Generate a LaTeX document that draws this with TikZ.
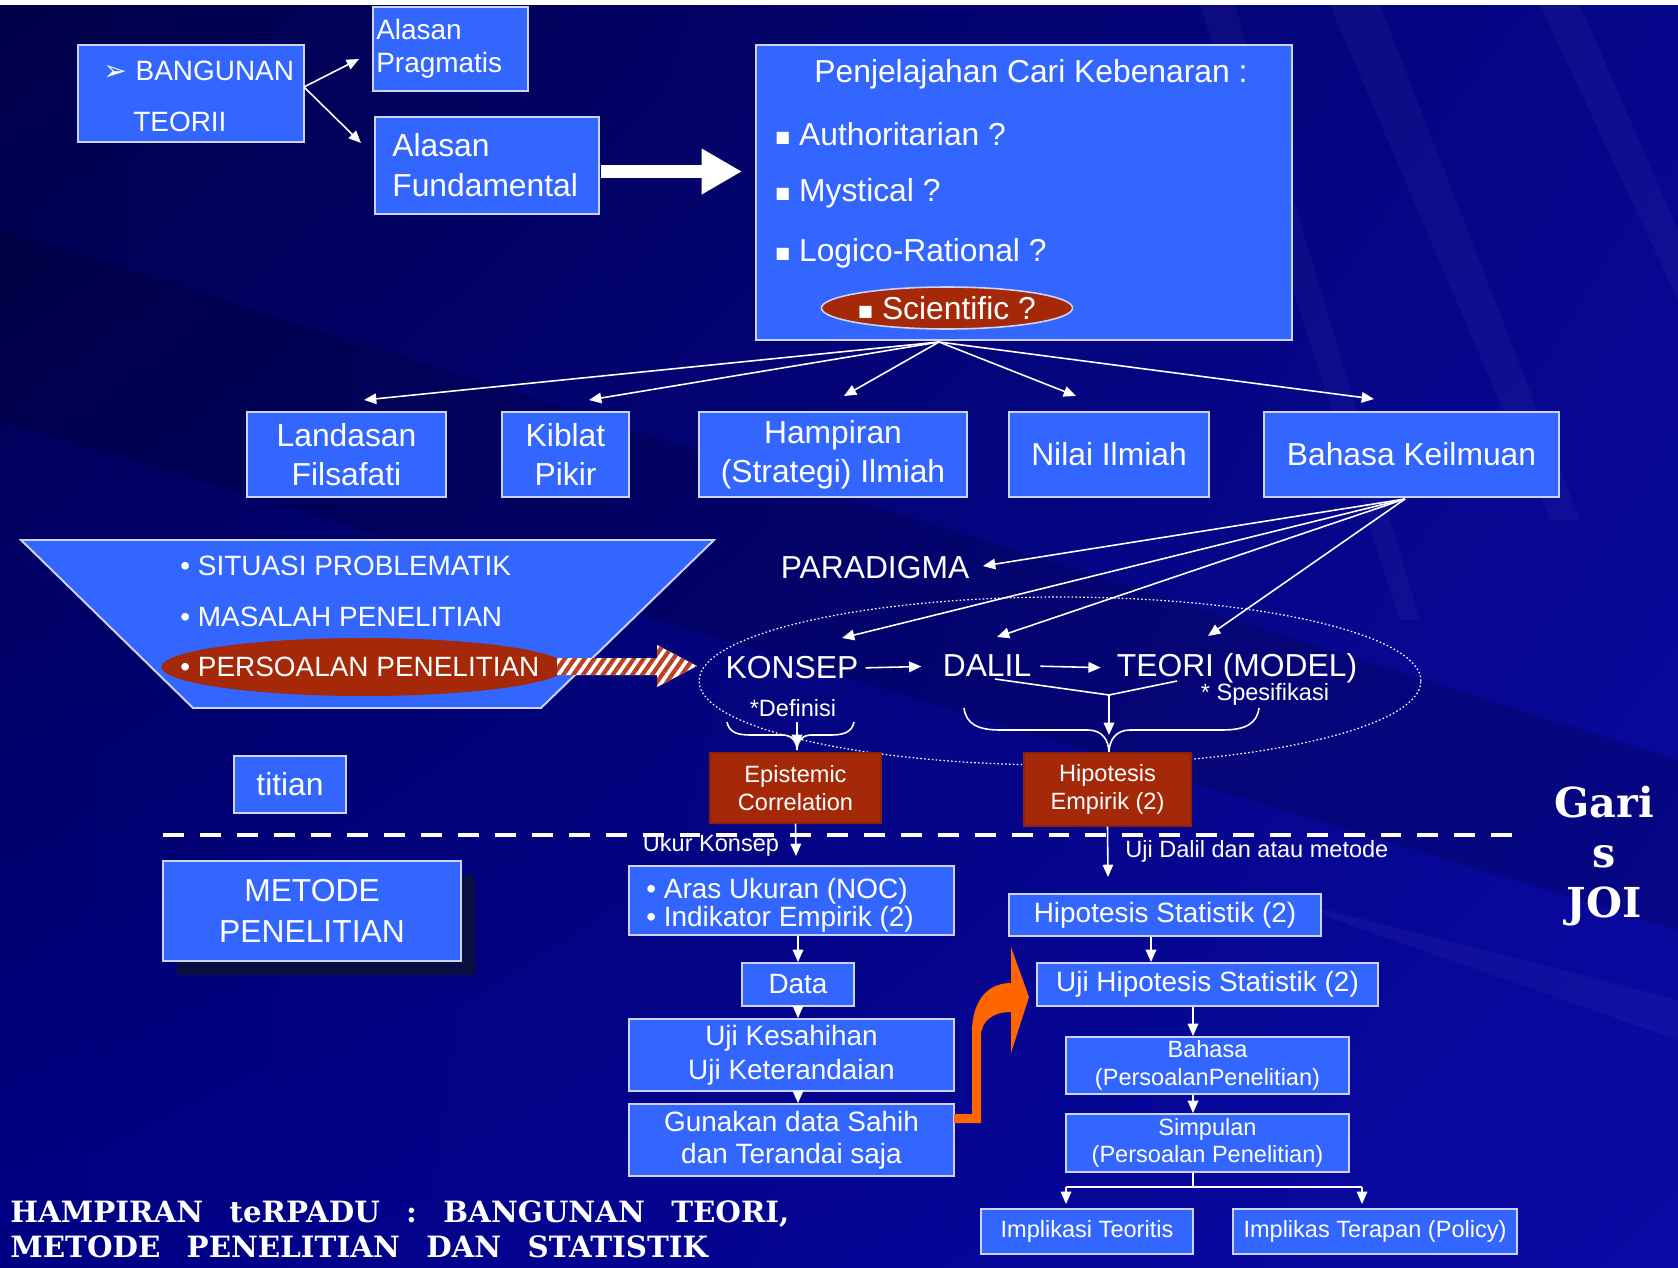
\documentclass[tikz,border=0pt]{standalone}
\usepackage{fontspec}
\setmainfont{Liberation Sans}
\newfontfamily\symf{DejaVu Sans}
\newfontfamily\decof{DejaVu Serif}
\usetikzlibrary{arrows.meta,shapes.geometric,calc,patterns.meta,shadows,shadings}

\definecolor{boxblue}{RGB}{51,102,255}
\definecolor{boxedge}{RGB}{205,212,240}
\definecolor{dred}{RGB}{165,40,8}
\definecolor{stripe}{RGB}{185,65,35}
\definecolor{orng}{RGB}{255,102,0}
\definecolor{shadowc}{RGB}{8,16,64}
\definecolor{bgUL}{RGB}{0,0,72}
\definecolor{bgUR}{RGB}{6,6,140}
\definecolor{bgLL}{RGB}{0,0,132}
\definecolor{bgLR}{RGB}{10,10,165}

% box given by its corners (x1,y1)-(x2,y2) in picture units
\newcommand\mkbox[7][]{%
  \pgfmathsetmacro\bxw{(#5-#3)*0.02}%
  \pgfmathsetmacro\bxh{(#6-#4)*0.02}%
  \node[box, minimum width=\bxw cm, minimum height=\bxh cm, #1] (#2)
    at ({(#3+#5)/2},{(#4+#6)/2}) {#7};}
\newcommand\sq{\raisebox{1.8pt}{\symf\fontsize{9pt}{9pt}\selectfont ■}}

\begin{document}
\begin{tikzpicture}[x=0.02cm,y=-0.02cm,
  box/.style={draw=boxedge, line width=1.1pt, fill=boxblue, text=white,
    inner sep=0pt, align=center},
  rbox/.style={fill=dred, draw=dred!85!black, line width=0.6pt},
  txt/.style={text=white, inner sep=0pt},
  arr/.style={draw=white, line width=0.9pt, -{Triangle[length=7pt,width=6pt]}},
  ln/.style={draw=white, line width=0.9pt},
  f32/.style={font=\fontsize{18.1pt}{22.3pt}\selectfont},
  f28/.style={font=\fontsize{15.9pt}{19.2pt}\selectfont},
  f24/.style={font=\fontsize{13.4pt}{15.5pt}\selectfont},
  bigarr/.style={draw=white, line width=7.9pt, -{Triangle[length=23pt,width=24.5pt]}},
  streak/.style={fill=white, opacity=0.035},
]
\useasboundingbox (0,0) rectangle (1678,1268);

% background with faint light streaks
\shade[upper left=bgUL, upper right=bgUR, lower left=bgLL, lower right=bgLR]
  (0,0) rectangle (1678,1268);
\fill[black, opacity=0.15] (0,230) -- (0,420) -- (1678,930) -- (1678,760) -- cycle;
\fill[streak] (1200,5) -- (1235,5) -- (1420,620) -- (1400,620) -- cycle;
\fill[streak] (1330,5) -- (1380,5) -- (1580,520) -- (1550,520) -- cycle;
\fill[streak] (1540,5) -- (1580,5) -- (1678,230) -- (1678,300) -- cycle;
\fill[streak] (1250,890) -- (1678,1000) -- (1678,1040) -- cycle;
\fill[white] (0,0) rectangle (1678,5);

% ---------- top part ----------
\mkbox{bt}{78}{45}{304}{142}{}
\node[txt,f28,anchor=west] (bt1) at (103,71)
  {{\symf\fontsize{16pt}{16pt}\selectfont ➢}\hspace{5pt}BANGUNAN};
\node[txt,f28,anchor=west] (bt2) at (133,122) {TEORII};

\mkbox{ap}{373}{7}{528}{91}{}
\node[txt,font=\fontsize{15.9pt}{18.7pt}\selectfont,align=left,anchor=west]
  (apt) at (376,49) {Alasan\\Pragmatis};
\mkbox{af}{375}{117}{599}{214}{}
\node[txt,font=\fontsize{18.1pt}{22.7pt}\selectfont,align=left,anchor=west]
  (aft) at (392,165) {Alasan\\Fundamental};

\coordinate (bt-e) at (304,87);
\coordinate (ap-in) at (359,59);
\coordinate (af-in) at (361,143);
\draw[arr] (bt-e) -- (ap-in);
\draw[arr] (bt-e) -- (af-in);

\mkbox{pj}{756}{45}{1292}{340}{}
\node[txt,f32] (pjt) at (1031,74) {Penjelajahan Cari Kebenaran :};
\node[txt,f32,anchor=west] (pj1) at (775,134) {\sq\ Authoritarian ?};
\node[txt,f32,anchor=west] (pj2) at (775,193) {\sq\ Mystical ?};
\node[txt,f32,anchor=west] (pj3) at (775,253) {\sq\ Logico-Rational ?};
\node[ellipse, fill=dred, draw=boxedge, line width=0.9pt, minimum width=4.8cm,
  minimum height=0.84cm, inner sep=0pt, text=white, f32] (sci) at (947,308)
  {\sq\ Scientific ?};

\coordinate (fa1) at (601,171.5);
\coordinate (fa2) at (742,171.5);
\draw[bigarr] (fa1) -- (fa2);

% ---------- second row ----------
\mkbox[f32]{lf}{247}{412}{446}{497}{Landasan\\Filsafati}
\mkbox[f32]{kp}{502}{412}{629}{497}{Kiblat\\Pikir}
\mkbox[f32]{hi}{699}{412}{967}{497}{Hampiran\\(Strategi) Ilmiah}
\mkbox[f32]{ni}{1009}{412}{1209}{497}{Nilai Ilmiah}
\mkbox[f32]{bk}{1264}{412}{1559}{497}{Bahasa Keilmuan}

\coordinate (pj-s) at (939,342);
\coordinate (r1) at (364,400);
\coordinate (r2) at (589,400);
\coordinate (r3) at (844,396);
\coordinate (r4) at (1076,396);
\coordinate (r5) at (1374,399);
\foreach \t in {r1,r2,r3,r4,r5} \draw[arr] (pj-s) -- (\t);

% ---------- problem funnel ----------
\draw[fill=boxblue, draw=boxedge, line width=1.1pt]
  (21,540) -- (714,540) -- (541,708) -- (193,708) -- cycle;
\node[ellipse, fill=dred, minimum width=8.1cm, minimum height=1.16cm,
  inner sep=0pt] (pe) at (364,667) {};
\node[txt,f28,anchor=west] (s1) at (180,566) {• SITUASI PROBLEMATIK};
\node[txt,f28,anchor=west] (s2) at (180,617) {• MASALAH PENELITIAN};
\node[txt,f28,anchor=west] (s3) at (180,667) {• PERSOALAN PENELITIAN};

\path[preaction={fill=white},
  pattern={Lines[angle=55,distance=4.6pt,line width=2.4pt]}, pattern color=stripe]
  (557,658) -- (657,658) -- (657,645) -- (697,666) -- (657,687) -- (657,675)
  -- (557,675) -- cycle;

% ---------- theory cycle ----------
\node[ellipse, draw=white, line width=0.7pt, dash pattern=on 0.9pt off 1.3pt,
  minimum width=14.44cm, minimum height=3.36cm, inner sep=0pt] (cyc) at (1060,681) {};

\node[txt,f32] (par) at (875,568) {PARADIGMA};
\node[txt,f32] (kon) at (792,668) {KONSEP};
\node[txt,f32] (dal) at (987,666) {DALIL};
\node[txt,f32] (teo) at (1237,668) {TEORI (MODEL)};
\node[txt,f24] (def) at (793,708) {*Definisi};
\node[txt,f24] (spf) at (1265,694) {* Spesifikasi};

\coordinate (bk-s) at (1405,499);
\coordinate (par-in) at (983,566);
\coordinate (kon-in) at (842,638);
\coordinate (dal-in) at (997,637);
\coordinate (teo-in) at (1208,636);
\foreach \t in {par-in,kon-in,dal-in,teo-in} \draw[arr] (bk-s) -- (\t);

\draw[arr, shorten <=4pt, shorten >=12pt] (kon.east) -- (dal.west);
\draw[arr, shorten <=5pt, shorten >=9pt] (dal.east) -- (teo.west);

% braces and joins toward the boxes
\coordinate (dl-b) at (995,679);
\coordinate (te-b) at (1177,681);
\coordinate (jn) at (1109,695);
\coordinate (he-in) at (1109,735);
\draw[ln] (dl-b) -- (jn) -- (te-b);
\draw[arr] (jn) -- (he-in);
\draw[ln] (964,708) .. controls (966,724) and (978,730) .. (1000,730)
  -- (1088,730) .. controls (1102,730) and (1109,740) .. (1109,753);
\draw[ln] (1259,708) .. controls (1257,724) and (1245,730) .. (1222,730)
  -- (1130,730) .. controls (1116,730) and (1109,740) .. (1109,753);

\coordinate (df-a) at (797,722);
\coordinate (df-b) at (797,747);
\draw[arr] (df-a) -- (df-b);
\draw[ln] (727,722) .. controls (729,732) and (737,735) .. (750,735)
  -- (783,735) .. controls (792,735) and (797,742) .. (797,750);
\draw[ln] (854,722) .. controls (852,732) and (844,735) .. (831,735)
  -- (811,735) .. controls (802,735) and (797,742) .. (797,750);

\mkbox[rbox,f24]{epi}{710}{753}{881}{823}{Epistemic\\Correlation}
\mkbox[rbox,f24]{he}{1024}{753}{1191}{826}{Hipotesis\\Empirik (2)}

% ---------- bridge and line ----------
\mkbox[f32]{ti}{234}{756}{346}{813}{titian}
\coordinate (gl-a) at (163,835);
\coordinate (gl-b) at (1518,835);
\draw[white, line width=2.8pt, dash pattern=on 11.9pt off 9.1pt] (gl-a) -- (gl-b);

\node[txt, font=\decof\bfseries\fontsize{23.5pt}{28.3pt}\selectfont, align=center]
  (gsj) at (1604,856) {Gari\\s\\JOI};

% ---------- method side ----------
\mkbox[f32, drop shadow={shadow xshift=0.28cm, shadow yshift=-0.27cm,
  opacity=1, fill=shadowc, draw=none}]{mp}{163}{861}{461}{961}
  {METODE\\[1pt]PENELITIAN}

\node[txt,f24] (ukt) at (711,845) {Ukur Konsep};
\coordinate (uk-in) at (796,856);
\draw[arr] (epi.south) -- (uk-in);

\node[txt,f24,anchor=west] (udt) at (1125,851) {Uji Dalil dan atau metode};
\coordinate (hs-in) at (1108,877);
\draw[arr] (he.south) -- (hs-in);

\mkbox{ar}{629}{866}{954}{935}{}
\node[txt,font=\fontsize{15.9pt}{16pt}\selectfont,align=left,anchor=west]
  (art) at (646,905) {• Aras Ukuran (NOC)\\• Indikator Empirik (2)};
\mkbox[f28]{da}{742}{963}{854}{1006}{Data}
\mkbox[font=\fontsize{15.9pt}{19.3pt}\selectfont]{uk}{629}{1019}{954}{1091}
  {Uji Kesahihan\\Uji Keterandaian}
\mkbox[font=\fontsize{15.9pt}{18.2pt}\selectfont]{gu}{629}{1104}{954}{1176}
  {Gunakan data Sahih\\dan Terandai saja}

\draw[arr] (ar.south -| da.north) -- (da.north);
\draw[arr] (da.south) -- (da.south |- uk.north);
\draw[arr] (uk.south -| da.south) -- (gu.north -| da.south);

% curved orange arrow into the statistics side
\fill[orng] (954,1114) -- (972,1114) -- (972,1033)
  .. controls (972,1000) and (988,983) .. (1011,983)
  -- (1011,947) -- (1029,997) -- (1011,1053) -- (1011,1012)
  .. controls (994,1012) and (981,1020) .. (981,1036)
  -- (981,1123) -- (954,1123) -- cycle;

% ---------- statistics side ----------
\mkbox[f28]{hs}{1009}{894}{1321}{936}{Hipotesis Statistik (2)}
\mkbox[f28]{uh}{1037}{963}{1378}{1006}{Uji Hipotesis Statistik (2)}
\mkbox[f24]{bp}{1066}{1037}{1349}{1094}{Bahasa\\(PersoalanPenelitian)}
\mkbox[f24]{sp}{1066}{1114}{1349}{1172}{Simpulan\\(Persoalan Penelitian)}
\mkbox[f24]{it}{981}{1209}{1193}{1254}{Implikasi Teoritis}
\mkbox[f24]{ip}{1233}{1209}{1517}{1254}{Implikas Terapan (Policy)}

\coordinate (c1) at (1151,0);
\coordinate (c2) at (1193,0);
\draw[arr] (hs.south -| c1) -- (uh.north -| c1);
\draw[arr] (uh.south -| c2) -- (bp.north -| c2);
\draw[arr] (bp.south -| c2) -- (sp.north -| c2);

\coordinate (br) at (1193,1187);
\coordinate (brL) at (1066,1187);
\coordinate (brR) at (1362,1187);
\coordinate (it-in) at (1066,1204);
\coordinate (ip-in) at (1362,1204);
\draw[ln] (sp.south -| br) -- (br);
\draw[ln] (brL) -- (brR);
\draw[arr] (brL) -- (it-in);
\draw[arr] (brR) -- (ip-in);

% ---------- title ----------
\node[txt, font=\decof\bfseries\fontsize{16.7pt}{19.8pt}\selectfont, align=left,
  anchor=west] (ttl) at (10,1229)
  {HAMPIRAN\hspace{0.9em}teRPADU\hspace{0.9em}:\hspace{0.9em}BANGUNAN\hspace{0.9em}TEORI,\\
   METODE\hspace{0.9em}PENELITIAN\hspace{0.9em}DAN\hspace{0.9em}STATISTIK};
\end{tikzpicture}
\end{document}
